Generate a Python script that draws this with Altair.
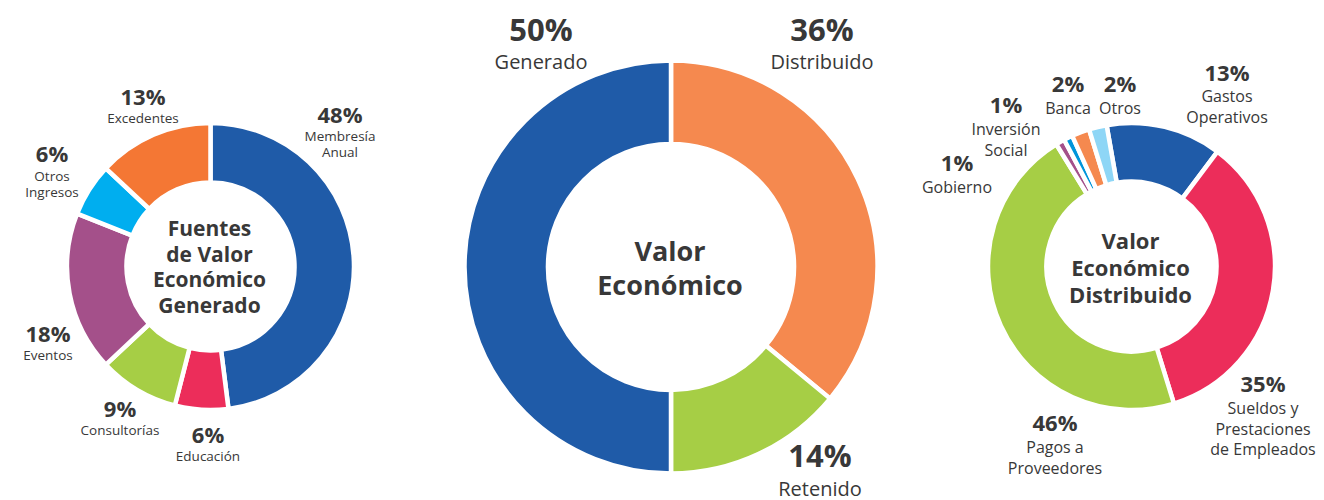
import math
import altair as alt
import pandas as pd

# ---------------- data ----------------
left_names = ["Membresía Anual", "Educación", "Consultorías", "Eventos", "Otros Ingresos", "Excedentes"]
left_values = [48, 6, 9, 18, 6, 13]

mid_names = ["Distribuido", "Retenido", "Generado"]
mid_values = [36, 14, 50]

right_names = ["Gastos Operativos", "Sueldos y Prestaciones de Empleados", "Pagos a Proveedores",
               "Gobierno", "Inversión Social", "Banca", "Otros"]
right_values = [13, 35, 46, 1, 1, 2, 2]

left_title = "Fuentes\nde Valor\nEconómico\nGenerado"
mid_title = "Valor\nEconómico"
right_title = "Valor\nEconómico\nDistribuido"

# label line breaks (text only)
left_label_text = ["Membresía\nAnual", "Educación", "Consultorías", "Eventos", "Otros\nIngresos", "Excedentes"]
mid_label_text = ["Distribuido", "Retenido", "Generado"]
right_label_text = ["Gastos\nOperativos", "Sueldos y\nPrestaciones\nde Empleados", "Pagos a\nProveedores",
                    "Gobierno", "Inversión\nSocial", "Banca", "Otros"]

# ---------------- styles / layout ----------------
BLUE = "#1f5ba8"
RED = "#ec2d5a"
GREEN = "#a6ce45"
PURPLE = "#a4508a"
CYAN = "#00aeef"
ORANGE = "#f47734"
ORANGE2 = "#f5894f"
BLUE2 = "#0095da"
LIGHTBLUE = "#8ed6f6"
TEXT = "#383838"
FONT = "Open Sans"

left_colors = [BLUE, RED, GREEN, PURPLE, CYAN, ORANGE]
mid_colors = [ORANGE2, GREEN, BLUE]
right_colors = [BLUE, RED, GREEN, PURPLE, BLUE2, ORANGE2, LIGHTBLUE]

M = 8  # page margin
W, H = 1308, 492

# donut geometry (page coords): cx, cy, outer, inner, start angle (deg)
LEFT_G = (210.5, 266.5, 143.5, 84, 0)
MID_G = (671, 267, 206.5, 123, 0)
RIGHT_G = (1131.5, 266.5, 143.5, 85, -10)

# label anchors (page coords): x, pct baseline, name baseline
LEFT_POS = [(340, 123, 141), (208, 443, 461), (120, 417, 435), (48, 342, 360), (52, 162, 181), (143, 105, 123)]
MID_POS = [(822, 40.5, 68.5), (820, 466.5, 495.5), (541, 40.5, 68.5)]
RIGHT_POS = [(1227, 81, 102), (1263, 392, 414), (1055, 431, 453), (957, 171, 193),
             (1006, 113, 135), (1068, 92, 114), (1120, 92, 114)]


def donut(names, values, colors, geom, label_text, pos, title, title_y, sizes):
    cx, cy, R, r, start = geom
    pct_size, name_size, name_lh, title_size, title_lh = sizes
    df = pd.DataFrame({"name": names, "value": values, "idx": list(range(len(names)))})
    a0 = math.radians(start)
    arc = alt.Chart(df).mark_arc(radius=R, radius2=r, stroke="white", strokeWidth=4.5,
                                 strokeJoin="round").encode(
        theta=alt.Theta("value:Q", stack=True, scale=alt.Scale(range=[a0, a0 + 2 * math.pi])),
        color=alt.Color("name:N", scale=alt.Scale(domain=names, range=colors), legend=None, sort=None),
        order=alt.Order("idx:Q"),
        x=alt.value(cx - M),
        y=alt.value(cy - M),
    )
    ldf = pd.DataFrame({
        "pct": [f"{v}%" for v in values],
        "label": label_text,
        "x": [p[0] - M for p in pos],
        "yp": [p[1] - M for p in pos],
        "yn": [p[2] - M for p in pos],
    })
    pct = alt.Chart(ldf).mark_text(font=FONT, fontWeight="bold", fontSize=pct_size, color=TEXT,
                                   align="center", baseline="alphabetic").encode(
        x=alt.X("x:Q", scale=None), y=alt.Y("yp:Q", scale=None), text="pct:N")
    lab = alt.Chart(ldf).mark_text(font=FONT, fontSize=name_size, color=TEXT, align="center",
                                   baseline="alphabetic", lineBreak="\n", lineHeight=name_lh).encode(
        x=alt.X("x:Q", scale=None), y=alt.Y("yn:Q", scale=None), text="label:N")
    tdf = pd.DataFrame({"t": [title]})
    ttl = alt.Chart(tdf).mark_text(font=FONT, fontWeight="bold", fontSize=title_size, color=TEXT,
                                   align="center", baseline="alphabetic", lineBreak="\n",
                                   lineHeight=title_lh).encode(
        x=alt.value(cx - 1 - M), y=alt.value(title_y - M), text="t:N")
    return [arc, pct, lab, ttl]


layers = []
layers += donut(left_names, left_values, left_colors, LEFT_G, left_label_text, LEFT_POS,
                left_title, 236, (22, 13.5, 16, 21, 25.7))
layers += donut(mid_names, mid_values, mid_colors, MID_G, mid_label_text, MID_POS,
                mid_title, 260.5, (31, 20, 24, 27, 34))
layers += donut(right_names, right_values, right_colors, RIGHT_G, right_label_text, RIGHT_POS,
                right_title, 249, (22, 16, 20.5, 22, 27.2))

chart = alt.layer(*layers).resolve_scale(theta="independent", color="independent").properties(
    width=W, height=H, padding=0, autosize=alt.AutoSizeParams(type="none"), background="white"
).configure_view(stroke=None)

chart.save("out.html", embed_options={"renderer": "svg", "actions": False})
